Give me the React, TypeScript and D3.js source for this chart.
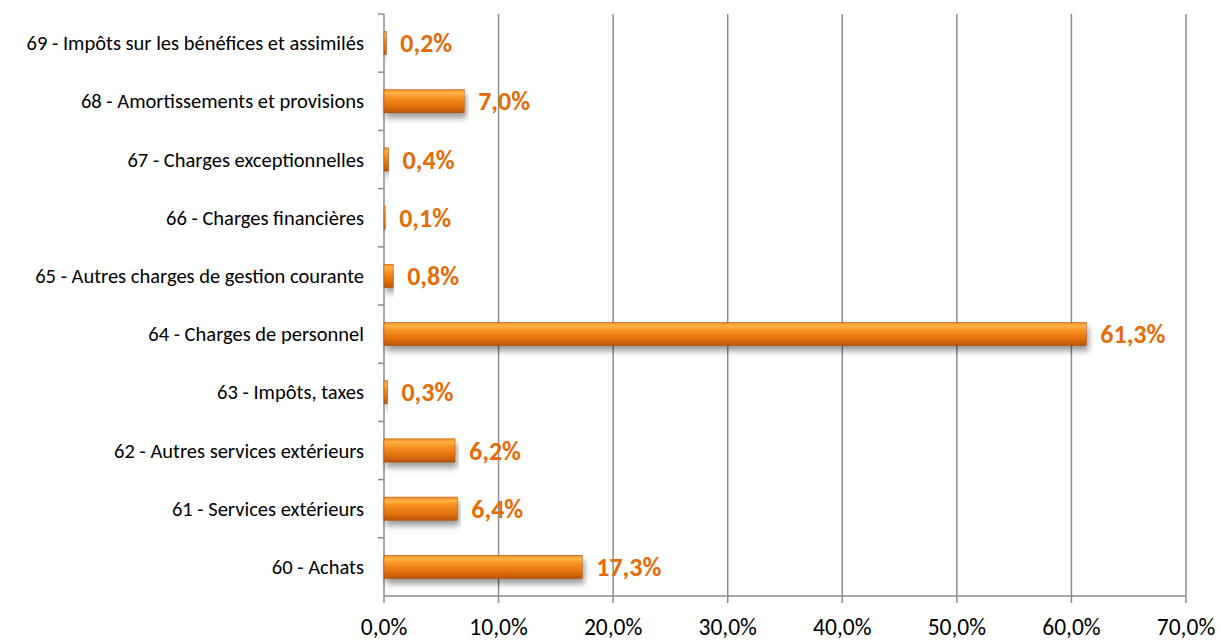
import React from "react";
import * as d3 from "d3";

const categories = [
  "69 - Impôts sur les bénéfices et assimilés",
  "68 - Amortissements et provisions",
  "67 - Charges exceptionnelles",
  "66 - Charges financières",
  "65 - Autres charges de gestion courante",
  "64 - Charges de personnel",
  "63 - Impôts, taxes",
  "62 - Autres services extérieurs",
  "61 - Services extérieurs",
  "60 - Achats",
];
const values = [0.2, 7.0, 0.4, 0.1, 0.8, 61.3, 0.3, 6.2, 6.4, 17.3];
const xTicks = [0, 10, 20, 30, 40, 50, 60, 70];

const W = 1221;
const H = 641;
const left = 384;
const right = 1186;
const top = 14;
const bottom = 596;

const fmt = (v: number) => v.toFixed(1).replace(".", ",") + "%";

export default function App() {
  const x = d3.scaleLinear().domain([0, 70]).range([left, right]);
  const y = d3.scaleBand<string>().domain(categories).range([top, bottom]).paddingInner(0.6).paddingOuter(0.3);
  const band = d3.scaleBand<string>().domain(categories).range([top, bottom]);
  const font = "Carlito, Calibri, Lato, sans-serif";
  return (
    <svg width={W} height={H} style={{ position: "absolute", left: 0, top: 0 }} fontFamily={font}>
      <defs>
        <linearGradient id="barGrad" x1="0" y1="0" x2="0" y2="1">
          <stop offset="0" stopColor="#f58a1f" />
          <stop offset="0.15" stopColor="#ffb347" />
          <stop offset="0.35" stopColor="#f7921e" />
          <stop offset="0.75" stopColor="#e06c0c" />
          <stop offset="1" stopColor="#b5560a" />
        </linearGradient>
        <filter id="shadow" x="-5%" y="-30%" width="110%" height="200%">
          <feGaussianBlur in="SourceAlpha" stdDeviation="3" />
          <feOffset dx="2" dy="5" result="b" />
          <feComponentTransfer>
            <feFuncA type="linear" slope="0.4" />
          </feComponentTransfer>
          <feMerge>
            <feMergeNode />
            <feMergeNode in="SourceGraphic" />
          </feMerge>
        </filter>
      </defs>
      {xTicks.map((t) => (
        <g key={t}>
          <line x1={x(t)} x2={x(t)} y1={top} y2={bottom + 7} stroke="#8c8c8c" strokeWidth={1.5} />
          <text x={x(t)} y={635} textAnchor="middle" fontSize={23.5} fill="#000">
            {fmt(t)}
          </text>
        </g>
      ))}
      <line x1={left} x2={right} y1={bottom} y2={bottom} stroke="#8c8c8c" strokeWidth={1.5} />
      {categories.map((c, i) => (
        <line key={"t" + i} x1={left - 6} x2={left} y1={band(c)!} y2={band(c)!} stroke="#8c8c8c" strokeWidth={1.5} />
      ))}
      {categories.map((c, i) => {
        const yc = band(c)! + band.bandwidth() / 2;
        const w = x(values[i]) - x(0);
        return (
          <g key={c}>
            <text x={364} y={yc + 7} textAnchor="end" fontSize={20.5} fill="#000">
              {c}
            </text>
            <rect x={x(0)} y={y(c)!} width={Math.max(w, 1)} height={y.bandwidth()} fill="url(#barGrad)" stroke="#a04c08" strokeWidth={0.5} filter="url(#shadow)" />
            <text x={x(values[i]) + 14} y={yc + 9} fontSize={26} fontWeight="bold" fill="#e36c09">
              {fmt(values[i])}
            </text>
          </g>
        );
      })}
    </svg>
  );
}
